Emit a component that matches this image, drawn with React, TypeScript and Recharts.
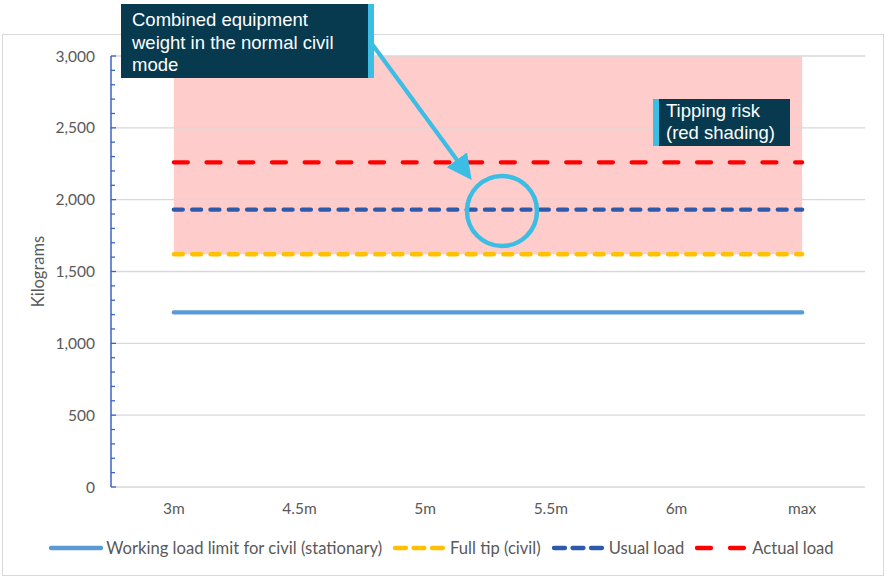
import React from 'react';
import { ComposedChart, Line, Area, XAxis, YAxis, ReferenceLine, Legend } from 'recharts';

// ---- data ----
const categories = ['3m', '4.5m', '5m', '5.5m', '6m', 'max'];
const workingLoad = [1215, 1215, 1215, 1215, 1215, 1215];
const fullTip = [1620, 1620, 1620, 1620, 1620, 1620];
const usualLoad = [1930, 1930, 1930, 1930, 1930, 1930];
const actualLoad = [2260, 2260, 2260, 2260, 2260, 2260];
const riskTop = [3000, 3000, 3000, 3000, 3000, 3000];
const yMajorTicks = [0, 500, 1000, 1500, 2000, 2500, 3000];
const yMinorTicks = Array.from({ length: 31 }, (_, i) => i * 100);

const data = categories.map((c, i) => ({
  category: c,
  working: workingLoad[i],
  fullTip: fullTip[i],
  usual: usualLoad[i],
  actual: actualLoad[i],
  risk: [fullTip[i], riskTop[i]],
}));

const series = [
  { key: 'working', name: 'Working load limit for civil (stationary)', color: '#5B9BD5', dash: undefined as string | undefined, legendDash: undefined as string | undefined },
  { key: 'fullTip', name: 'Full tip (civil)', color: '#FFC000', dash: '9 9.3', legendDash: '11 7.5' },
  { key: 'usual', name: 'Usual load', color: '#2E5AAC', dash: '9 9.3', legendDash: '11 7.5' },
  { key: 'actual', name: 'Actual load', color: '#FF0000', dash: '14 18.7', legendDash: '14 19' },
];

const FONT = 'Lato, "Open Sans", sans-serif';
const AXIS_BLUE = '#3A63C8';
const GRID = '#D9D9D9';
const TEXT_GRAY = '#595959';
const NAVY = '#073A4E';
const CYAN = '#3BBDE4';

const YTick = (props: any) => {
  const { x, y, payload } = props;
  const major = payload.value % 500 === 0;
  return (
    <g>
      <line x1={x} x2={x + (major ? 5 : 4)} y1={y} y2={y} stroke={AXIS_BLUE} strokeWidth={1.3} />
      {major && (
        <text x={x - 16} y={y} dy="0.36em" textAnchor="end" fill={TEXT_GRAY} fontSize={15.5} fontFamily={FONT}>
          {payload.value.toLocaleString('en-US')}
        </text>
      )}
    </g>
  );
};

const YLabel = (props: any) => {
  const vb = props.viewBox || {};
  const cx = (vb.x || 0) + 38;
  const cy = (vb.y || 0) + (vb.height || 0) / 2;
  return (
    <text x={cx} y={cy} dy="0.36em" textAnchor="middle" transform={`rotate(-90 ${cx} ${cy})`}
      fill={TEXT_GRAY} fontSize={16.5} fontFamily={FONT}>Kilograms</text>
  );
};

const LegendContent = () => (
  <div style={{ display: 'flex', justifyContent: 'center', alignItems: 'center', fontFamily: FONT, fontSize: 16.6, color: TEXT_GRAY, whiteSpace: 'nowrap', paddingLeft: 8 }}>
    {series.map((s) => (
      <div key={s.key} style={{ display: 'flex', alignItems: 'center', marginRight: 11 }}>
        <svg width={54} height={10} style={{ marginRight: 3 }}>
          <line x1={2} x2={52} y1={5} y2={5} stroke={s.color} strokeWidth={4.3} strokeLinecap="round" strokeDasharray={s.legendDash} />
        </svg>
        <span>{s.name}</span>
      </div>
    ))}
  </div>
);

export default function App() {
  return (
    <div style={{ position: 'absolute', left: 0, top: 0, width: 886, height: 578, background: '#fff', overflow: 'hidden' }}>
      <div style={{ position: 'absolute', left: 2, top: 34, width: 880, height: 540, border: '1.5px solid #D9D9D9' }} />
      <div style={{ position: 'absolute', left: 0, top: 0 }}>
        <ComposedChart width={886} height={578} data={data} margin={{ top: 56, right: 21, left: 0, bottom: 0 }}>
          {yMajorTicks.map((t) => (
            <ReferenceLine key={t} y={t} stroke={GRID} strokeWidth={1.3} />
          ))}
          <XAxis dataKey="category" scale="band" axisLine={false} tickLine={false} tickSize={0} tickMargin={16} height={91}
            tick={{ fill: TEXT_GRAY, fontSize: 15.5, fontFamily: FONT }} />
          <YAxis domain={[0, 3000]} ticks={yMinorTicks} interval={0} width={111} tickSize={0} tickMargin={0}
            tickLine={false} axisLine={{ stroke: AXIS_BLUE, strokeWidth: 1.5 }} tick={<YTick />}
            label={<YLabel />} />
          <Area dataKey="risk" stroke="none" fill="#FF0000" fillOpacity={0.2} isAnimationActive={false} legendType="none" activeDot={false} />
          {series.map((s) => (
            <Line key={s.key} dataKey={s.key} name={s.name} stroke={s.color} strokeWidth={4.3} strokeLinecap="round"
              strokeDasharray={s.dash} dot={false} activeDot={false} isAnimationActive={false} />
          ))}
          <Legend layout="horizontal" verticalAlign="middle" align="center" content={<LegendContent />}
            wrapperStyle={{ top: 538, left: 0, width: 886 }} />
        </ComposedChart>
      </div>
      <svg width={886} height={578} style={{ position: 'absolute', left: 0, top: 0, pointerEvents: 'none' }}>
        <defs>
          <marker id="ah" markerWidth="6" markerHeight="6" refX="4.5" refY="3" orient="auto" markerUnits="strokeWidth">
            <path d="M0,0 L6,3 L0,6 Z" fill={CYAN} />
          </marker>
        </defs>
        <line x1={372} x2={468} y1={44} y2={175} stroke={CYAN} strokeWidth={4.2} markerEnd="url(#ah)" />
        <circle cx={502} cy={211} r={35} fill="none" stroke={CYAN} strokeWidth={4.5} />
      </svg>
      <div style={{ position: 'absolute', left: 121, top: 4, height: 74, background: NAVY, borderRight: `6px solid ${CYAN}`,
        color: '#fff', fontFamily: '"Liberation Sans", Arial, sans-serif', fontSize: 18.5, lineHeight: '22.5px', padding: '5px 0 0 11px', boxSizing: 'border-box', width: 253 }}>
        Combined equipment<br />weight in the normal civil<br />mode
      </div>
      <div style={{ position: 'absolute', left: 653, top: 99, width: 137, height: 47, background: NAVY, borderLeft: `6px solid ${CYAN}`,
        color: '#fff', fontFamily: '"Liberation Sans", Arial, sans-serif', fontSize: 18.5, lineHeight: '22px', padding: '1px 0 0 7px', boxSizing: 'border-box' }}>
        Tipping risk<br />(red shading)
      </div>
    </div>
  );
}
